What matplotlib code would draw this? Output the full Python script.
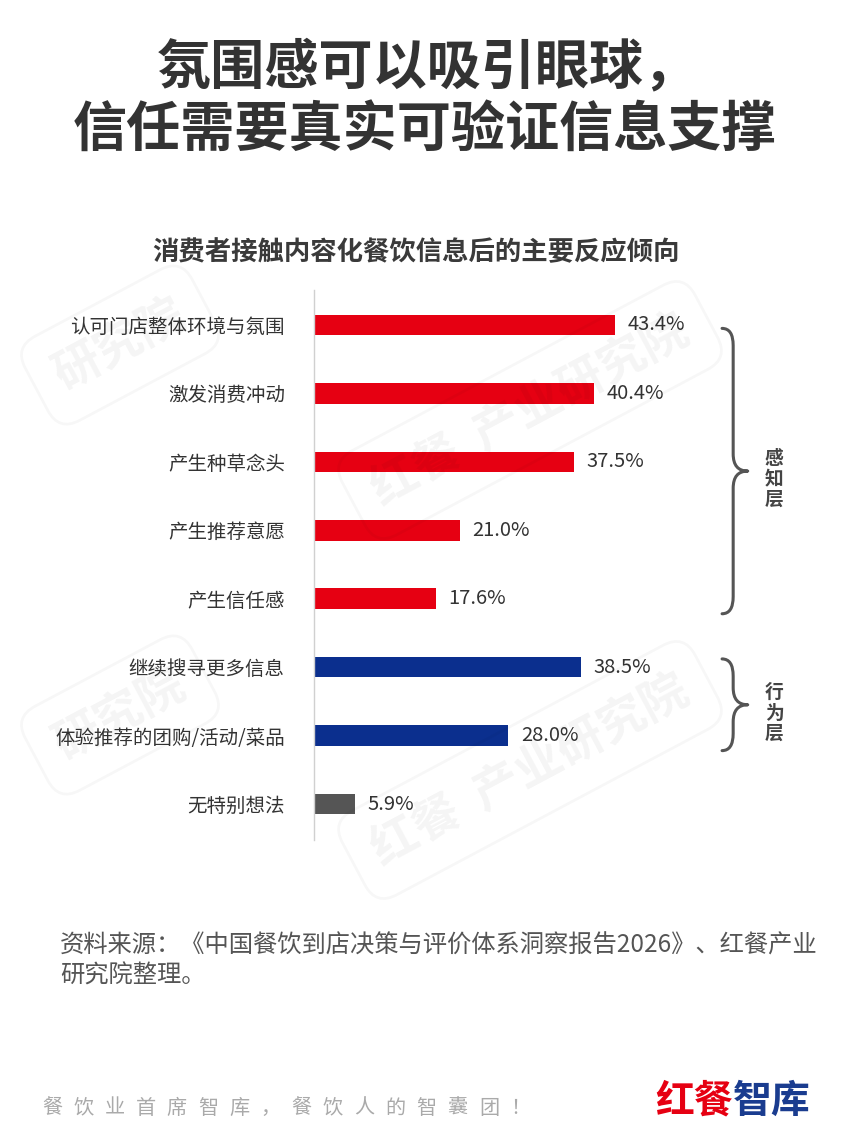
import numpy as np
import matplotlib
matplotlib.use('Agg')
from matplotlib import pyplot as plt
from matplotlib.path import Path
from matplotlib.patches import PathPatch

plt.rcParams['font.family'] = ['Noto Sans CJK SC', 'DejaVu Sans']

# data
labels = ['认可门店整体环境与氛围', '激发消费冲动', '产生种草念头', '产生推荐意愿',
          '产生信任感', '继续搜寻更多信息', '体验推荐的团购/活动/菜品', '无特别想法']
values = [43.4, 40.4, 37.5, 21.0, 17.6, 38.5, 28.0, 5.9]
layer = ['感知', '感知', '感知', '感知', '感知', '行为', '行为', '其他']
groups = [('感\n知\n层', 0, 4), ('行\n为\n层', 5, 6)]

colors = {'感知': '#E60012', '行为': '#0B2F8E', '其他': '#555555'}

W, H = 850, 1133
fig = plt.figure(figsize=(W / 100, H / 100), dpi=100)

def fx(px):
    return px / W

def fy(py):
    return 1 - py / H

# title
fig.text(fx(157), fy(68), '氛围感可以吸引眼球，', fontsize=39, fontweight='bold',
         color='#333333', ha='left', va='center')
fig.text(fx(425), fy(130), '信任需要真实可验证信息支撑', fontsize=39, fontweight='bold',
         color='#333333', ha='center', va='center')
fig.text(fx(416), fy(253), '消费者接触内容化餐饮信息后的主要反应倾向', fontsize=19,
         fontweight='bold', color='#3a3a3a', ha='center', va='center')

# watermark
for (wx, wy, wt) in [(530, 410, '红餐  产业研究院'), (530, 770, '红餐  产业研究院'),
                     (120, 345, '研究院'), (120, 715, '研究院')]:
    fig.text(fx(wx), fy(wy), wt, fontsize=34, rotation=28,
             color='#000000', alpha=0.045, ha='center', va='center', fontweight='bold',
             bbox=dict(boxstyle='round,pad=0.5', fc='none', ec='#000000', lw=2, alpha=0.03))

# axes
ax = fig.add_axes([fx(314), fy(840), fx(850 - 314), (840 - 290) / H])
y = np.arange(len(labels))
ax.barh(y, values, height=0.3, color=[colors[l] for l in layer])
ax.set_xlim(0, (850 - 314) / 6.94)
ax.set_ylim(7.526, -0.511)
ax.set_yticks(y)
ax.set_yticklabels(labels, fontsize=14, color='#333333')
ax.tick_params(axis='y', length=0, pad=21)
ax.set_xticks([])
for s in ['top', 'right', 'bottom']:
    ax.spines[s].set_visible(False)
ax.spines['left'].set_color('#d0d0d0')
ax.spines['left'].set_linewidth(1)
ax.patch.set_alpha(0)

for yi, v in zip(y, values):
    ax.text(v + 1.8, yi, f'{v:.1f}%', fontsize=14.5, color='#333333',
            ha='left', va='center')

# braces
def brace(ax, y0, y1, x0, w, t, r):
    ym = (y0 + y1) / 2
    verts = [(x0, y0), (x0 + w, y0), (x0 + w, y0 + r),
             (x0 + w, ym - r), (x0 + w, ym), (x0 + w + t, ym),
             (x0 + w, ym), (x0 + w, ym + r),
             (x0 + w, y1 - r), (x0 + w, y1), (x0, y1)]
    codes = [Path.MOVETO, Path.CURVE3, Path.CURVE3,
             Path.LINETO, Path.CURVE3, Path.CURVE3,
             Path.CURVE3, Path.CURVE3,
             Path.LINETO, Path.CURVE3, Path.CURVE3]
    ax.add_patch(PathPatch(Path(verts, codes), fc='none', ec='#555555', lw=2.2,
                           clip_on=False, capstyle='round', joinstyle='round'))
    return ym

for txt, a, b in groups:
    y0 = a + 0.05 if a == 0 else a - 0.12
    y1 = b + 0.22
    ym = brace(ax, y0, y1, 58.8, 1.6, 2.1, 0.25)
    ax.text(66.3, ym + 0.12, txt, fontsize=13.5, fontweight='bold', color='#444444',
            ha='center', va='center', linespacing=1.1)

# source
fig.text(fx(60), fy(946), '资料来源：《中国餐饮到店决策与评价体系洞察报告2026》、红餐产业',
         fontsize=17.5, color='#555555', ha='left', va='center')
fig.text(fx(60), fy(976), '研究院整理。', fontsize=17.5, color='#555555',
         ha='left', va='center')

# footer
for i, ch in enumerate('餐饮业首席智库，餐饮人的智囊团！'):
    fig.text(fx(42 + i * 31.2), fy(1108), ch, fontsize=14.5, color='#aaaaaa',
             ha='left', va='center')
fig.text(fx(733), fy(1101), '红餐', fontsize=28, fontweight='bold', color='#E60012',
         ha='right', va='center')
fig.text(fx(733), fy(1101), '智库', fontsize=28, fontweight='bold', color='#1A3C8F',
         ha='left', va='center')

fig.savefig('out.png', dpi=100)
